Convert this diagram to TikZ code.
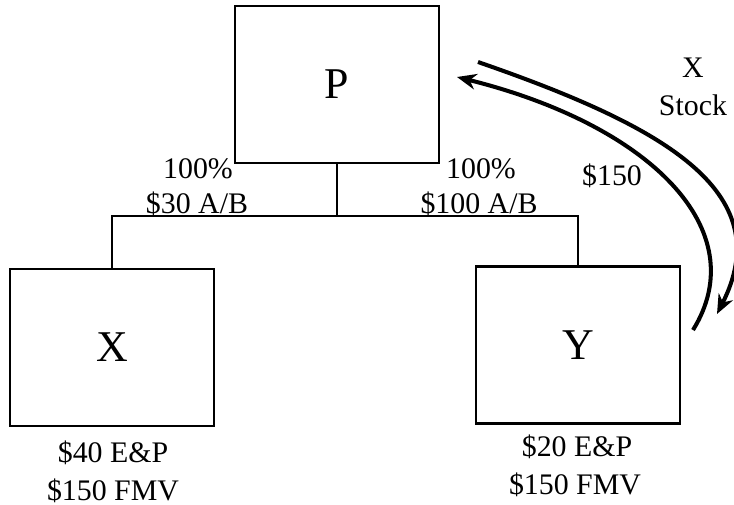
\documentclass[tikz,border=0pt]{standalone}
\usepackage{fontspec}
\setmainfont{Liberation Serif}
\usetikzlibrary{arrows.meta}

\begin{document}
\begin{tikzpicture}[x=0.02cm, y=-0.02cm,
        box/.style={rectangle, draw, line width=1.3pt, minimum width=4.08cm, minimum height=3.14cm, font=\fontsize{25}{30}\selectfont},
        lbl/.style={anchor=base, inner sep=0pt, font=\fontsize{17}{22}\selectfont},
        flow/.style={line width=2.3pt, -{Stealth[length=11pt, width=9pt]}}]
    \useasboundingbox (0,0) rectangle (734,504);
    % companies
    \node[box] (P) at (337,84.5) {P};
    \node[box] (X) at (112,347.5) {X};
    \node[box] (Y) at (578,345) {Y};
    % ownership lines
    \coordinate (mid) at (337,216);
    \draw[line width=0.9pt] (P) -- (mid);
    \draw[line width=0.9pt] (X) |- (mid) -| (Y);
    \node[lbl] (pctX) at (198,178) {100\%};
    \node[lbl] (abX) at (197,213) {\$30 A/B};
    \node[lbl] (pctY) at (481,178) {100\%};
    \node[lbl] (abY) at (479,213) {\$100 A/B};
    % values
    \node[lbl] (epX) at (113,462) {\$40 E\&P};
    \node[lbl] (fmvX) at (113,500) {\$150 FMV};
    \node[lbl] (epY) at (577,456) {\$20 E\&P};
    \node[lbl] (fmvY) at (575,494) {\$150 FMV};
    % exchange
    \coordinate (outS) at (478,62);
    \coordinate (outE) at (717,314);
    \coordinate (inS) at (693,330);
    \coordinate (inE) at (457,77);
    \draw[flow] (outS) .. controls (660,125) and (780,190) .. (outE);
    \draw[flow] (inS) .. controls (755,230) and (650,125) .. (inE);
    \node[lbl] (stkX) at (693,77) {X};
    \node[lbl] (stk) at (693,115) {Stock};
    \node[lbl] (cash) at (612,185) {\$150};
\end{tikzpicture}
\end{document}
